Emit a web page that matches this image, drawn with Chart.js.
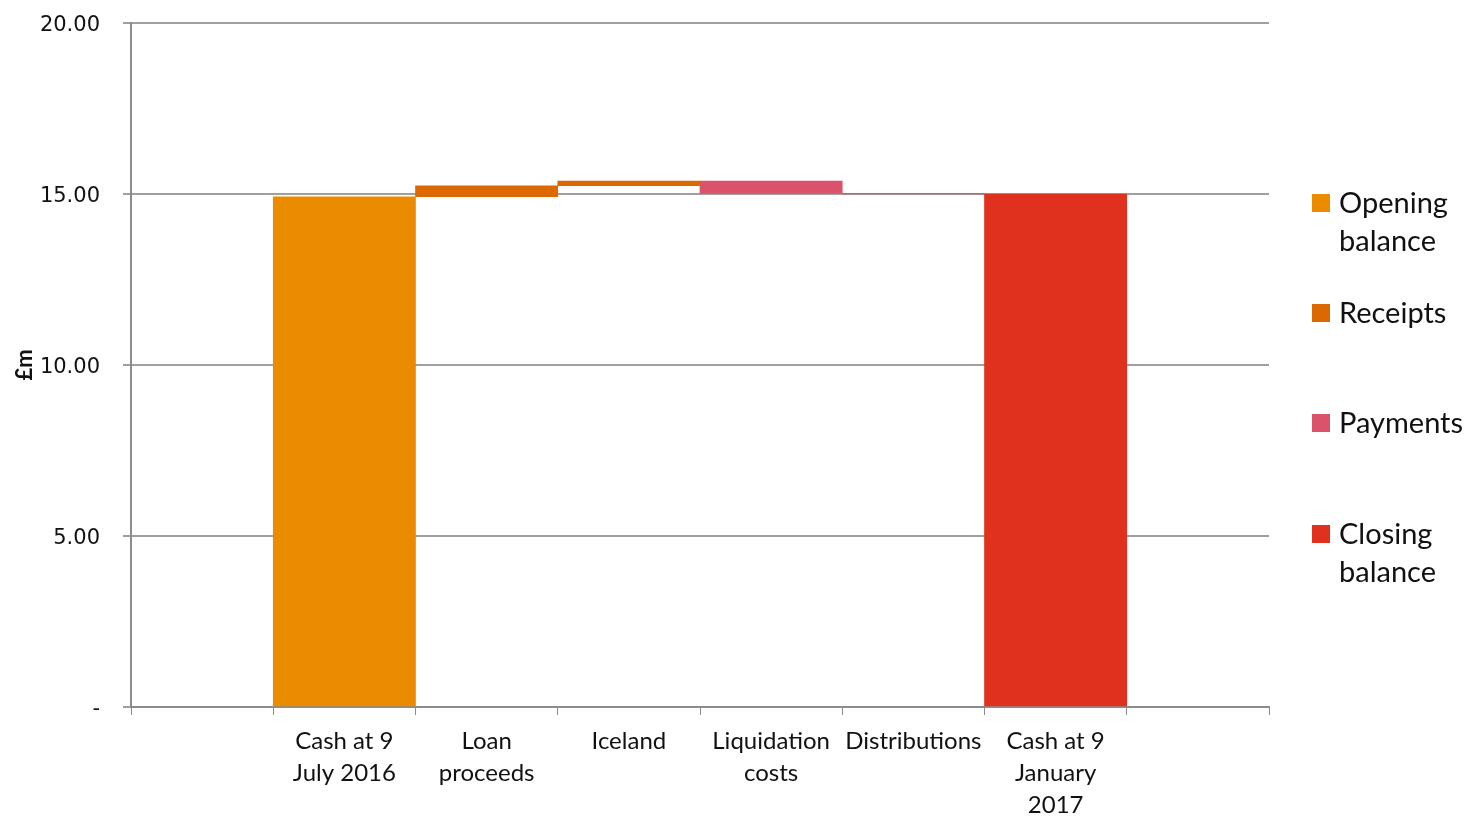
<!DOCTYPE html>
<html>
<head>
<meta charset="utf-8">
<script src="https://cdn.jsdelivr.net/npm/chart.js@4/dist/chart.umd.min.js"></script>
<style>
  html, body { margin: 0; padding: 0; background: #fff; }
  #wrap { position: relative; width: 1470px; height: 817px; }
  #legend { position: absolute; left: 1312px; top: 0; font-family: Lato, "Open Sans", sans-serif; font-size: 29px; color: #111; }
  .item { position: absolute; left: 0; width: 160px; line-height: 38px; padding-left: 27px; }
  .item span { position: absolute; left: 0; top: 11px; width: 18px; height: 18px; }
</style>
</head>
<body>
<div id="wrap">
  <canvas id="grafico" width="1470" height="817"></canvas>
  <div id="legend"></div>
</div>
<script>
// categorias (primeira e última vazias, como no original)
const categorias = ['', ['Cash at 9', 'July 2016'], ['Loan', 'proceeds'], 'Iceland',
  ['Liquidation', 'costs'], 'Distributions', ['Cash at 9', 'January', '2017'], ''];

// valores em £m: [base, topo] para cada barra flutuante
const saldoInicial = [null, [0, 14.92], null, null, null, null, null, null];
const recebimentos = [null, null, [14.92, 15.24], [15.24, 15.38], null, null, null, null];
const pagamentos = [null, null, null, null, [15.38, 15.02], [15.02, 15.00], null, null];
const saldoFinal = [null, null, null, null, null, null, [0, 15.00], null];

const nomesSeries = ['Opening balance', 'Receipts', 'Payments', 'Closing balance'];
const coresSeries = ['#EB8C00', '#DC6900', '#DB536A', '#E0301E'];

const ticksY = [0, 5, 10, 15, 20];

// posição vertical de cada item da legenda (topo da caixa)
const topoLegenda = [183, 293, 403, 514];

function montarLegenda() {
    const el = document.getElementById('legend');
    nomesSeries.forEach((nome, i) => {
        const d = document.createElement('div');
        d.className = 'item';
        d.style.top = topoLegenda[i] + 'px';
        const partes = nome.split(' ');
        d.innerHTML = '<span style="background:' + coresSeries[i] + '"></span>' + partes.join('<br>');
        el.appendChild(d);
    });
}

const series = [saldoInicial, recebimentos, pagamentos, saldoFinal];

const ctx = document.getElementById('grafico').getContext('2d');
const grafico = new Chart(ctx, {
    type: 'bar',
    data: {
        labels: categorias,
        datasets: series.map((dados, i) => ({
            label: nomesSeries[i],
            data: dados,
            backgroundColor: coresSeries[i],
            borderWidth: 0,
            barPercentage: 1,
            categoryPercentage: 1,
            grouped: false
        }))
    },
    options: {
        responsive: false,
        animation: false,
        layout: { padding: { top: 23, right: 201, left: 0, bottom: 0 } },
        plugins: {
            legend: { display: false },
            tooltip: { enabled: false }
        },
        scales: {
            x: {
                grid: { drawOnChartArea: false, drawTicks: true, tickLength: 8, color: '#8c8c8c', offset: true },
                border: { color: '#8c8c8c', width: 2 },
                ticks: {
                    color: '#111',
                    font: { family: 'Lato, "Open Sans", sans-serif', size: 24, lineHeight: 1.33 },
                    maxRotation: 0,
                    autoSkip: false,
                    padding: 10
                },
                afterFit: (escala) => { escala.height = 110; }
            },
            y: {
                min: 0,
                max: 20,
                afterBuildTicks: (escala) => { escala.ticks = ticksY.map(v => ({ value: v })); },
                grid: { color: '#a0a0a0', lineWidth: 2, tickLength: 8 },
                border: { color: '#8c8c8c', width: 2 },
                ticks: {
                    color: '#111',
                    font: { family: '"DejaVu Sans", sans-serif', size: 21 },
                    padding: 23,
                    labelOffset: 3,
                    callback: (v) => v === 0 ? '-' : v.toFixed(2)
                },
                title: {
                    display: true,
                    text: '£m',
                    color: '#111',
                    font: { family: 'Lato, "Open Sans", sans-serif', size: 22, weight: 'bold' },
                    padding: { top: 12, bottom: 0 }
                },
                afterFit: (escala) => {
                    escala.width = 131;
                    // a margem do topo fica só com o padding do layout
                    escala.paddingTop = 0;
                    escala.paddingBottom = 0;
                }
            }
        }
    }
});

montarLegenda();
</script>
</body>
</html>
